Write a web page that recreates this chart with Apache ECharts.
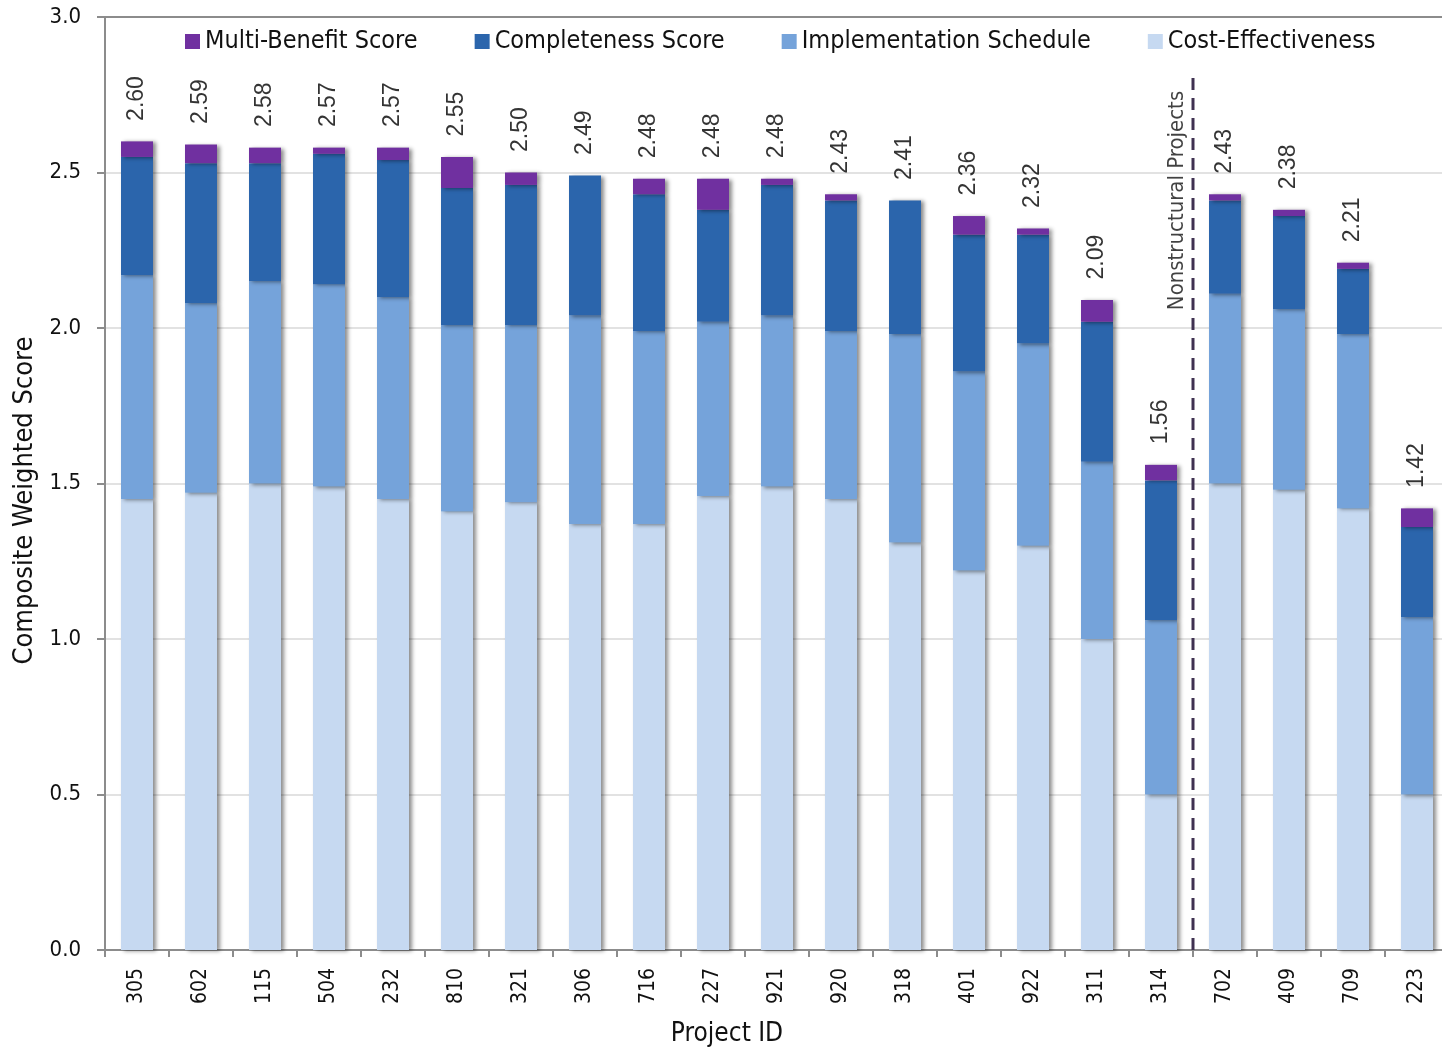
<!DOCTYPE html>
<html><head><meta charset="utf-8">
<script src="https://cdn.jsdelivr.net/npm/echarts@6/dist/echarts.min.js"></script>
<style>html,body{margin:0;padding:0;background:#fff}#c{width:1442px;height:1052px}</style>
</head><body><div id="c"></div>
<script>
const projects = ['305','602','115','504','232','810','321','306','716','227','921','920','318','401','922','311','314','702','409','709','223'];
const costEffectiveness = [1.45,1.47,1.50,1.49,1.45,1.41,1.44,1.37,1.37,1.46,1.49,1.45,1.31,1.22,1.30,1.00,0.50,1.50,1.48,1.42,0.50];
const implementation   = [0.72,0.61,0.65,0.65,0.65,0.60,0.57,0.67,0.62,0.56,0.55,0.54,0.67,0.64,0.65,0.57,0.56,0.61,0.58,0.56,0.57];
const completeness     = [0.38,0.45,0.38,0.42,0.44,0.44,0.45,0.45,0.44,0.36,0.42,0.42,0.43,0.44,0.35,0.45,0.45,0.30,0.30,0.21,0.29];
const multiBenefit     = [0.05,0.06,0.05,0.02,0.04,0.10,0.04,0.00,0.05,0.10,0.02,0.02,0.00,0.06,0.02,0.07,0.05,0.02,0.02,0.02,0.06];
const totalLabels      = ['2.60','2.59','2.58','2.57','2.57','2.55','2.50','2.49','2.48','2.48','2.48','2.43','2.41','2.36','2.32','2.09','1.56','2.43','2.38','2.21','1.42'];
const dividerPosition = 17;
const dividerTop = 2.82;
const dividerText = 'Nonstructural Projects';

const NARROW = "'DejaVu Sans Condensed','Liberation Sans Narrow','Arial Narrow',sans-serif";
const SANS = "'Liberation Sans',Arial,sans-serif";
const shadow = {shadowColor:'rgba(0,0,0,0.45)', shadowBlur:4, shadowOffsetX:3, shadowOffsetY:1};
const totals = costEffectiveness.map((v,i)=>+(v+implementation[i]+completeness[i]+multiBenefit[i]).toFixed(2));

function barSeries(name, data, color){
  return {name, type:'bar', stack:'s', data, barWidth:32, itemStyle:Object.assign({color}, shadow), emphasis:{disabled:true}};
}

const chart = echarts.init(document.getElementById('c'));
chart.setOption({
  animation:false,
  textStyle:{fontFamily:NARROW},
  grid:{left:105, top:17, width:1344, bottom:102, outerBoundsMode:'none', containLabel:false},
  legend:{
    data:['Multi-Benefit Score','Completeness Score','Implementation Schedule','Cost-Effectiveness'],
    left:180, top:24, width:1300, itemWidth:15, itemHeight:15, itemGap:57,
    icon:'rect',
    textStyle:{fontFamily:NARROW, fontSize:25, color:'#111'}
  },
  xAxis:[{
    type:'category', data:projects,
    axisLine:{lineStyle:{color:'#8c8c8c', width:2}},
    axisTick:{show:true, length:7, lineStyle:{color:'#8c8c8c', width:2}},
    axisLabel:{rotate:90, fontSize:21, color:'#111', margin:18, fontFamily:NARROW},
    name:'Project ID', nameLocation:'middle', nameGap:71,
    nameTextStyle:{fontSize:26, color:'#111', fontFamily:NARROW, padding:[0,100,0,0]}
  },{
    type:'value', min:0, max:21, position:'top', show:true,
    axisLine:{show:true, onZero:false, lineStyle:{color:'#8c8c8c', width:2}},
    axisTick:{show:false}, axisLabel:{show:false}, splitLine:{show:false}
  }],
  yAxis:{
    type:'value', min:0, max:3, interval:0.5,
    axisLine:{show:true, lineStyle:{color:'#8c8c8c', width:2}},
    axisTick:{show:true, length:8, lineStyle:{color:'#8c8c8c', width:2}},
    axisLabel:{fontSize:22, color:'#111', margin:24, fontFamily:NARROW, formatter:v=>v.toFixed(1)},
    splitLine:{lineStyle:{color:'#d9d9d9', width:1.5}},
    name:'Composite Weighted Score', nameLocation:'middle', nameGap:66,
    nameTextStyle:{fontSize:27, color:'#111', fontFamily:NARROW, padding:[0,34,0,0]}
  },
  series:[
    barSeries('Cost-Effectiveness', costEffectiveness, '#C6D9F1'),
    barSeries('Implementation Schedule', implementation, '#75A3DA'),
    barSeries('Completeness Score', completeness, '#2B65AC'),
    barSeries('Multi-Benefit Score', multiBenefit, '#7030A0'),
    {
      type:'scatter', data:totals, symbolSize:1, itemStyle:{color:'rgba(0,0,0,0)'}, silent:true,
      label:{show:true, position:'top', distance:20, rotate:90, align:'left', verticalAlign:'middle',
        fontFamily:SANS, fontSize:23, color:'#000', formatter:p=>totalLabels[p.dataIndex]}
    },
    {
      type:'line', xAxisIndex:1, data:[[dividerPosition,0],[dividerPosition,dividerTop]], symbol:'none', silent:true,
      lineStyle:{color:'#3F3151', width:3, type:[12,8]}
    },
    {
      type:'scatter', xAxisIndex:1, data:[[16.75,2.41]], symbolSize:1, itemStyle:{color:'rgba(0,0,0,0)'}, silent:true,
      label:{show:true, position:'inside', rotate:90, align:'center', verticalAlign:'middle',
        fontFamily:NARROW, fontSize:22, color:'#111', formatter:dividerText}
    }
  ]
});
</script></body></html>
